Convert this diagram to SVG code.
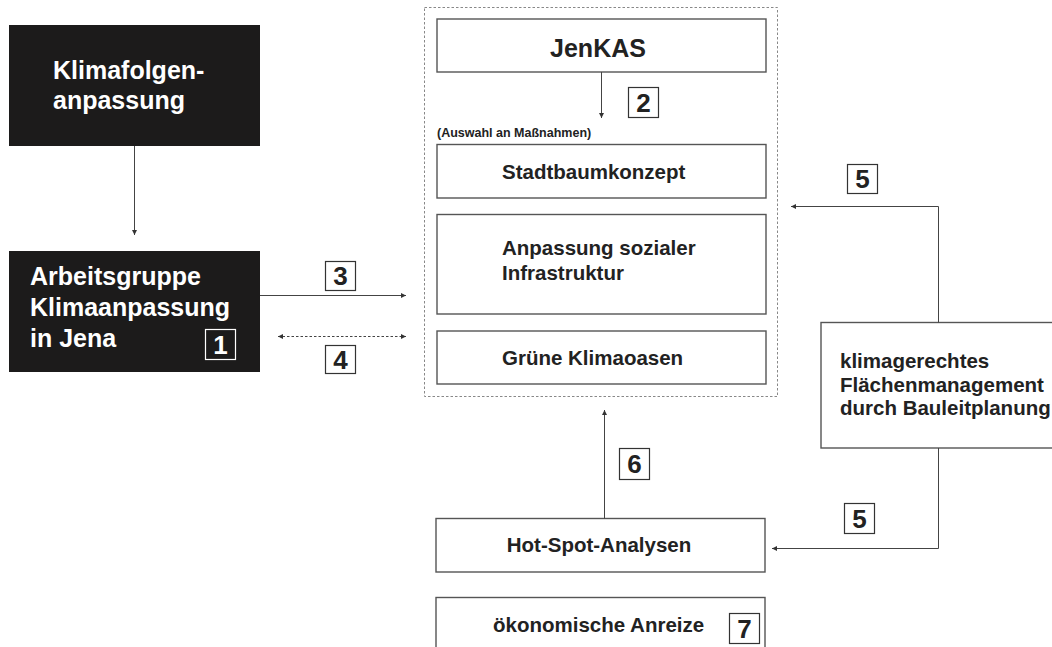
<svg xmlns="http://www.w3.org/2000/svg" width="1052" height="647" viewBox="0 0 1052 647">
<style>
text{font-family:"Liberation Sans",Arial,sans-serif;font-weight:bold;fill:#222}
.dark{fill:#1c1b1b}
.wt{fill:#fff}
.box{fill:#fff;stroke:#555;stroke-width:1.4}
.badge{fill:#fff;stroke:#333;stroke-width:1.2}
.badgew{fill:none;stroke:#fff;stroke-width:1.2}
.num{font-size:26px;text-anchor:middle}
.lbl{font-size:20.5px}
.con{fill:none;stroke:#444;stroke-width:1}
.dot{fill:none;stroke:#444;stroke-width:1;stroke-dasharray:2.5,2}
.cont{fill:none;stroke:#888;stroke-width:1;stroke-dasharray:2.5,2}
</style>
<defs>
<marker id="ah" viewBox="0 0 10 10" refX="10" refY="5" markerWidth="7" markerHeight="5" markerUnits="userSpaceOnUse" orient="auto-start-reverse">
<path d="M0,0 L10,5 L0,10 z" fill="#333"/>
</marker>
</defs>
<rect width="1052" height="647" fill="#fff"/>

<g id="container">
<rect class="cont" x="424.5" y="7.5" width="353" height="389"/>
</g>

<g id="klimafolgen">
<rect class="dark" x="9" y="25" width="251" height="121"/>
<text class="wt" x="53" y="79" font-size="25">Klimafolgen-</text>
<text class="wt" x="53" y="109" font-size="25">anpassung</text>
</g>

<g id="arbeitsgruppe">
<rect class="dark" x="9" y="251" width="251" height="121"/>
<text class="wt" x="30" y="285" font-size="25">Arbeitsgruppe</text>
<text class="wt" x="30" y="316" font-size="25">Klimaanpassung</text>
<text class="wt" x="30" y="347" font-size="25">in Jena</text>
<rect class="badgew" x="205.5" y="329.5" width="30" height="30"/>
<text class="wt num" x="220.5" y="354">1</text>
</g>

<g id="jenkas">
<rect class="box" x="437" y="19" width="329" height="53"/>
<text x="598" y="57" font-size="25" text-anchor="middle">JenKAS</text>
</g>

<g id="auswahl">
<text x="437" y="137" font-size="12.5">(Auswahl an Maßnahmen)</text>
</g>

<g id="stadtbaum">
<rect class="box" x="437" y="144.5" width="329" height="53.5"/>
<text class="lbl" x="502" y="179">Stadtbaumkonzept</text>
</g>

<g id="sozial">
<rect class="box" x="437" y="214.5" width="329" height="99.5"/>
<text class="lbl" x="502" y="255">Anpassung sozialer</text>
<text class="lbl" x="502" y="280">Infrastruktur</text>
</g>

<g id="gruene">
<rect class="box" x="437" y="331" width="329" height="53"/>
<text class="lbl" x="502" y="365">Grüne Klimaoasen</text>
</g>

<g id="flaechen">
<rect class="box" x="821" y="322.5" width="240" height="125.5"/>
<text class="lbl" x="840" y="368">klimagerechtes</text>
<text class="lbl" x="840" y="392">Flächenmanagement</text>
<text class="lbl" x="840" y="415">durch Bauleitplanung</text>
</g>

<g id="hotspot">
<rect class="box" x="436" y="518.5" width="329" height="53.5"/>
<text class="lbl" x="599" y="552" text-anchor="middle">Hot-Spot-Analysen</text>
</g>

<g id="oekonomisch">
<rect class="box" x="436" y="597.5" width="329" height="60"/>
<text class="lbl" x="493" y="632">ökonomische Anreize</text>
<rect class="badge" x="729.5" y="613.5" width="30" height="30"/>
<text class="num" x="744.5" y="638">7</text>
</g>

<g id="connectors">
<line class="con" x1="134.5" y1="146" x2="134.5" y2="235" marker-end="url(#ah)"/>
<line class="con" x1="601.5" y1="72" x2="601.5" y2="118" marker-end="url(#ah)"/>
<line class="con" x1="260" y1="295.5" x2="406" y2="295.5" marker-end="url(#ah)"/>
<line class="dot" x1="278" y1="336.5" x2="406" y2="336.5" marker-start="url(#ah)" marker-end="url(#ah)"/>
<polyline class="con" points="938.5,322.5 938.5,206.5 791,206.5" marker-end="url(#ah)"/>
<polyline class="con" points="938.5,448 938.5,548.5 772,548.5" marker-end="url(#ah)"/>
<line class="con" x1="604.5" y1="518.5" x2="604.5" y2="410" marker-end="url(#ah)"/>
</g>

<g id="badges">
<rect class="badge" x="628.5" y="87.5" width="30" height="30"/>
<text class="num" x="643.5" y="112">2</text>
<rect class="badge" x="325.5" y="261.5" width="30" height="29"/>
<text class="num" x="340.5" y="285">3</text>
<rect class="badge" x="325.5" y="345.5" width="30" height="28"/>
<text class="num" x="340.5" y="369">4</text>
<rect class="badge" x="847.5" y="164.5" width="30" height="29"/>
<text class="num" x="862.5" y="188">5</text>
<rect class="badge" x="844.5" y="503.5" width="30" height="30"/>
<text class="num" x="859.5" y="528">5</text>
<rect class="badge" x="619.5" y="448.5" width="30" height="31"/>
<text class="num" x="634.5" y="473">6</text>
</g>
</svg>
